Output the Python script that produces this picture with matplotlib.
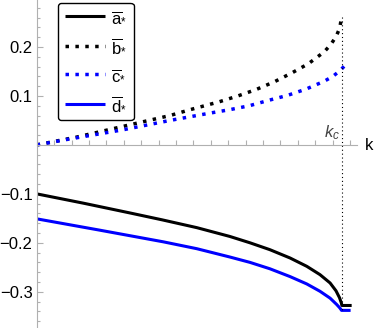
import numpy as np
import matplotlib
matplotlib.use("Agg")
import matplotlib.pyplot as plt
from matplotlib.ticker import MultipleLocator, FixedLocator

plt.rcParams['font.family'] = ['Liberation Sans', 'DejaVu Sans']
plt.rcParams['mathtext.fontset'] = 'custom'
plt.rcParams['mathtext.rm'] = 'Liberation Sans'
plt.rcParams['mathtext.it'] = 'Liberation Sans:italic'
plt.rcParams['axes.unicode_minus'] = True

# critical k (x axis has no tick labels, units arbitrary)
kc = 0.876

# b (black dotted)
b_k = [0, 0.115, 0.249, 0.383, 0.441, 0.524, 0.578, 0.630, 0.683, 0.733, 0.781, 0.826, 0.845, 0.860, 0.871, 0.876]
b_v = [0, 0.016, 0.038, 0.060, 0.072, 0.088, 0.100, 0.113, 0.129, 0.147, 0.166, 0.190, 0.205, 0.221, 0.239, 0.262]

# c (blue dotted)
c_k = [0, 0.086, 0.249, 0.383, 0.498, 0.555, 0.611, 0.666, 0.720, 0.774, 0.826, 0.851, 0.872, 0.888]
c_v = [0, 0.011, 0.031, 0.050, 0.065, 0.072, 0.080, 0.091, 0.101, 0.114, 0.130, 0.140, 0.152, 0.164]

# a (black solid)
a_k = [0, 0.134, 0.268, 0.36, 0.46, 0.555, 0.613, 0.670, 0.728, 0.776, 0.814, 0.843, 0.860, 0.870, 0.875, 0.877, 0.905]
a_v = [-0.100, -0.119, -0.139, -0.153, -0.169, -0.187, -0.200, -0.214, -0.231, -0.248, -0.265, -0.282, -0.298, -0.312, -0.322, -0.328, -0.328]

# d (blue solid)
d_k = [0, 0.18, 0.364, 0.46, 0.555, 0.613, 0.670, 0.728, 0.776, 0.814, 0.843, 0.862, 0.871, 0.876, 0.902]
d_v = [-0.151, -0.174, -0.198, -0.212, -0.229, -0.240, -0.253, -0.269, -0.284, -0.299, -0.313, -0.326, -0.333, -0.338, -0.338]

labels = [r'$\overline{\mathrm{a}}_{*}$', r'$\overline{\mathrm{b}}_{*}$',
          r'$\overline{\mathrm{c}}_{*}$', r'$\overline{\mathrm{d}}_{*}$']

fig = plt.figure(figsize=(3.74, 3.28), dpi=100)
ax = fig.add_axes([36.7 / 374, 0, 320 / 374, 1])

dots = (0, (1, 1.85))
la, = ax.plot(a_k, a_v, color='black', lw=2.2, solid_capstyle='butt')
lb, = ax.plot(b_k, b_v, color='black', lw=2.5, ls=dots, dash_capstyle='butt')
lc, = ax.plot(c_k, c_v, color='#0000ff', lw=2.5, ls=dots, dash_capstyle='butt')
ld, = ax.plot(d_k, d_v, color='#0000ff', lw=2.2, solid_capstyle='butt')

# vertical marker at k_c
ax.plot([kc, kc], [b_v[-1], -0.34], color='black', lw=0.8, ls=(0, (1, 2.5)))
ax.text(kc - 0.004, 0.005, r'$k_c$', ha='right', va='bottom', color='#444444', fontsize=12)

ax.set_xlim(0, 0.9195)
ax.set_ylim(-0.374, 0.296)

axis_gray = '#b0b0b0'
for side in ['top', 'right']:
    ax.spines[side].set_visible(False)
ax.spines['bottom'].set_position(('data', 0))
ax.spines['left'].set_position(('data', 0))
ax.spines['bottom'].set_color(axis_gray)
ax.spines['left'].set_color(axis_gray)

ax.xaxis.set_major_locator(MultipleLocator(0.05))
ax.xaxis.set_major_formatter(plt.NullFormatter())
ax.yaxis.set_major_locator(FixedLocator([-0.3, -0.2, -0.1, 0.1, 0.2]))
ax.yaxis.set_minor_locator(MultipleLocator(0.02))
ax.tick_params(axis='x', direction='in', length=3.5, color=axis_gray, width=0.8)
ax.tick_params(axis='y', which='major', direction='in', length=4, color=axis_gray,
               width=0.8, labelsize=12, pad=3)
ax.tick_params(axis='y', which='minor', direction='in', length=2.5, color=axis_gray, width=0.8)
ax.set_yticklabels(['\u22120.3', '\u22120.2', '\u22120.1', '0.1', '0.2'])

fig.text(369 / 374, 1 - 145 / 328, 'k', ha='center', va='center', fontsize=12)

leg = ax.legend([la, lb, lc, ld], labels, loc='upper left',
                bbox_to_anchor=(58 / 374, 1 - 3 / 328), bbox_transform=fig.transFigure,
                borderaxespad=0, fontsize=12, handlelength=2.4, handletextpad=0.4,
                labelspacing=0.78, borderpad=0.4, fancybox=True, framealpha=1)
leg.get_frame().set_edgecolor('black')
leg.get_frame().set_linewidth(1.0)

fig.savefig('out.png', dpi=100)
